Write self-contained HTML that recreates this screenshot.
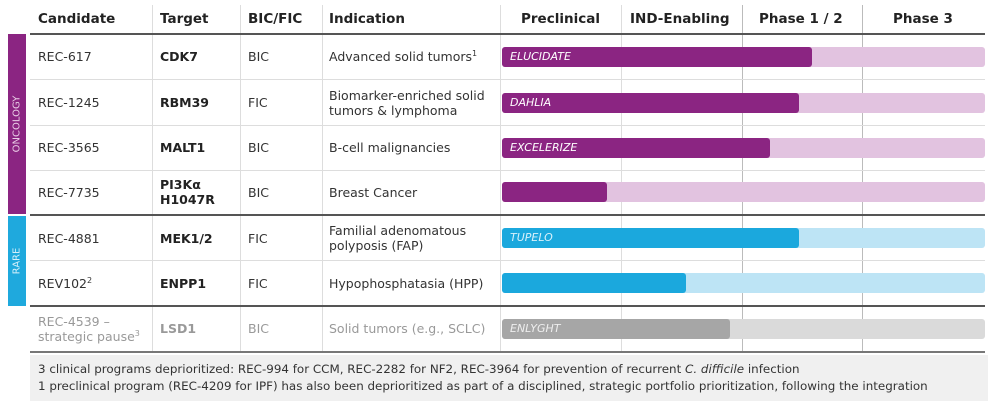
<!DOCTYPE html>
<html><head><meta charset="utf-8">
<style>
*{margin:0;padding:0;box-sizing:border-box}
body{width:1000px;height:409px;background:#fff;position:relative;overflow:hidden;font-family:"DejaVu Sans","Liberation Sans",sans-serif;color:#333}
.a{position:absolute}
.h{font-weight:bold;font-size:13.5px;color:#222;top:11px}
.t{font-size:12.5px;color:#333;line-height:15px}
.b{font-weight:bold;color:#222}
sup{font-size:8px;line-height:0;vertical-align:5px}
.vl{position:absolute;width:1px;background:#ddd}
.hl{position:absolute;height:1px;background:#ddd;left:30px;width:955px}
.tk{position:absolute;height:2px;background:#555;left:30px;width:955px}
.bar{position:absolute;border-radius:3px}
.bl{position:absolute;font-style:italic;font-size:11px;color:#fff;left:510px}
.g{color:#999}
</style></head><body>
<div class="a" style="left:8px;top:34px;width:18px;height:180px;background:#8b2582"><div style="position:absolute;left:50%;top:50%;transform:translate(-50%,-50%) rotate(-90deg);color:#e9cde6;font-size:10px;white-space:nowrap">ONCOLOGY</div></div>
<div class="a" style="left:8px;top:216px;width:18px;height:90px;background:#1fa9dd"><div style="position:absolute;left:50%;top:50%;transform:translate(-50%,-50%) rotate(-90deg);color:#d4effa;font-size:10px;white-space:nowrap">RARE</div></div>

<div class="vl" style="left:152px;top:5px;height:346px"></div>
<div class="vl" style="left:240px;top:5px;height:346px"></div>
<div class="vl" style="left:322px;top:5px;height:346px"></div>
<div class="vl" style="left:500px;top:5px;height:346px"></div>
<div class="vl" style="left:621px;top:5px;height:346px"></div>
<div class="vl" style="left:742px;top:5px;height:346px;background:#bbb"></div>
<div class="vl" style="left:862px;top:5px;height:346px;background:#bbb"></div>

<div class="a h" style="left:38px">Candidate</div>
<div class="a h" style="left:160px">Target</div>
<div class="a h" style="left:248px">BIC/FIC</div>
<div class="a h" style="left:329px">Indication</div>
<div class="a h" style="left:521px">Preclinical</div>
<div class="a h" style="left:630px">IND-Enabling</div>
<div class="a h" style="left:759px">Phase 1 / 2</div>
<div class="a h" style="left:893px">Phase 3</div>
<div class="tk" style="top:33px"></div>
<div class="hl" style="top:79px"></div>
<div class="hl" style="top:125px"></div>
<div class="hl" style="top:170px"></div>
<div class="tk" style="top:214px"></div>
<div class="hl" style="top:260px"></div>
<div class="tk" style="top:305px"></div>
<div class="tk" style="top:351px;background:#777"></div>

<div id="rows"></div>

<div class="a" style="left:30px;top:355px;width:958px;height:46px;background:#f0f0f0;font-size:11.9px;color:#333;padding:6px 8px;line-height:17px;white-space:nowrap">
3 clinical programs deprioritized: REC-994 for CCM, REC-2282 for NF2, REC-3964 for prevention of recurrent <i>C. difficile</i> infection<br>
1 preclinical program (REC-4209 for IPF) has also been deprioritized as part of a disciplined, strategic portfolio prioritization, following the integration</div>

<script>
const candidates=["REC-617","REC-1245","REC-3565","REC-7735","REC-4881","REV102<sup>2</sup>","REC-4539 –<br>strategic pause<sup>3</sup>"];
const targets=["CDK7","RBM39","MALT1","PI3Kα<br>H1047R","MEK1/2","ENPP1","LSD1"];
const bicfic=["BIC","FIC","BIC","BIC","FIC","FIC","BIC"];
const indications=["Advanced solid tumors<sup>1</sup>","Biomarker-enriched solid<br>tumors &amp; lymphoma","B-cell malignancies","Breast Cancer","Familial adenomatous<br>polyposis (FAP)","Hypophosphatasia (HPP)","Solid tumors (e.g., SCLC)"];
const trials=["ELUCIDATE","DAHLIA","EXCELERIZE","","TUPELO","","ENLYGHT"];
const progress=[2.57,2.46,2.22,0.87,2.46,1.52,1.89];
const groups=["onc","onc","onc","onc","rare","rare","paused"];
const rowTop=[34,80,125,170,216,261,306];
const rowH=[45,45,45,44,44,44,45];
const x0=502,x1=985,maxPhase=4;
const xs=v=>x0+(x1-x0)*v/maxPhase;
const colors={onc:["#8b2582","#e2c3e0"],rare:["#1ba8dd","#bde4f5"],paused:["#a6a6a6","#dadada"]};
const root=document.getElementById('rows');
function add(html,left,top,h,cls,name){
  const d=document.createElement('div');
  d.className='a t '+cls;
  
  
  d.style.left=left+'px';d.style.top=top+'px';d.style.height=h+'px';
  d.style.display='flex';d.style.alignItems='center';
  d.innerHTML='<span>'+html+'</span>';
  root.appendChild(d);
}
candidates.forEach((c,i)=>{
  const t=rowTop[i],h=rowH[i],g=groups[i]==='paused'?' g':'';
  add(c,38,t,h,g,'candidate-cell');
  add(targets[i],160,t,h,'b','target-cell');
  add(bicfic[i],248,t,h,g,'bic-fic-cell');
  add(indications[i],329,t,h,g,'indication-cell');
  const [dk,lt]=colors[groups[i]];
  const by=t+h/2-10;
  const bg=document.createElement('div');
  bg.className='bar';
  
  
  bg.style.cssText=`left:${x0}px;top:${by}px;width:${x1-x0}px;height:20px;background:${lt}`;
  root.appendChild(bg);
  const f=document.createElement('div');
  f.className='bar';
  
  
  f.style.cssText=`left:${x0}px;top:${by}px;width:${xs(progress[i])-x0}px;height:20px;background:${dk}`;
  root.appendChild(f);
  if(trials[i]){
    const l=document.createElement('div');
    l.className='bl';
    
    
    l.style.top=(by+3)+'px';
    if(groups[i]!=='onc')l.style.color=groups[i]==='rare'?'#d8f1fb':'#eee';
    l.textContent=trials[i];
    root.appendChild(l);
  }
});
document.querySelectorAll('.a.t.b').forEach((e,i)=>{if(i===6)e.style.color='#999';});
</script>
</body></html>
